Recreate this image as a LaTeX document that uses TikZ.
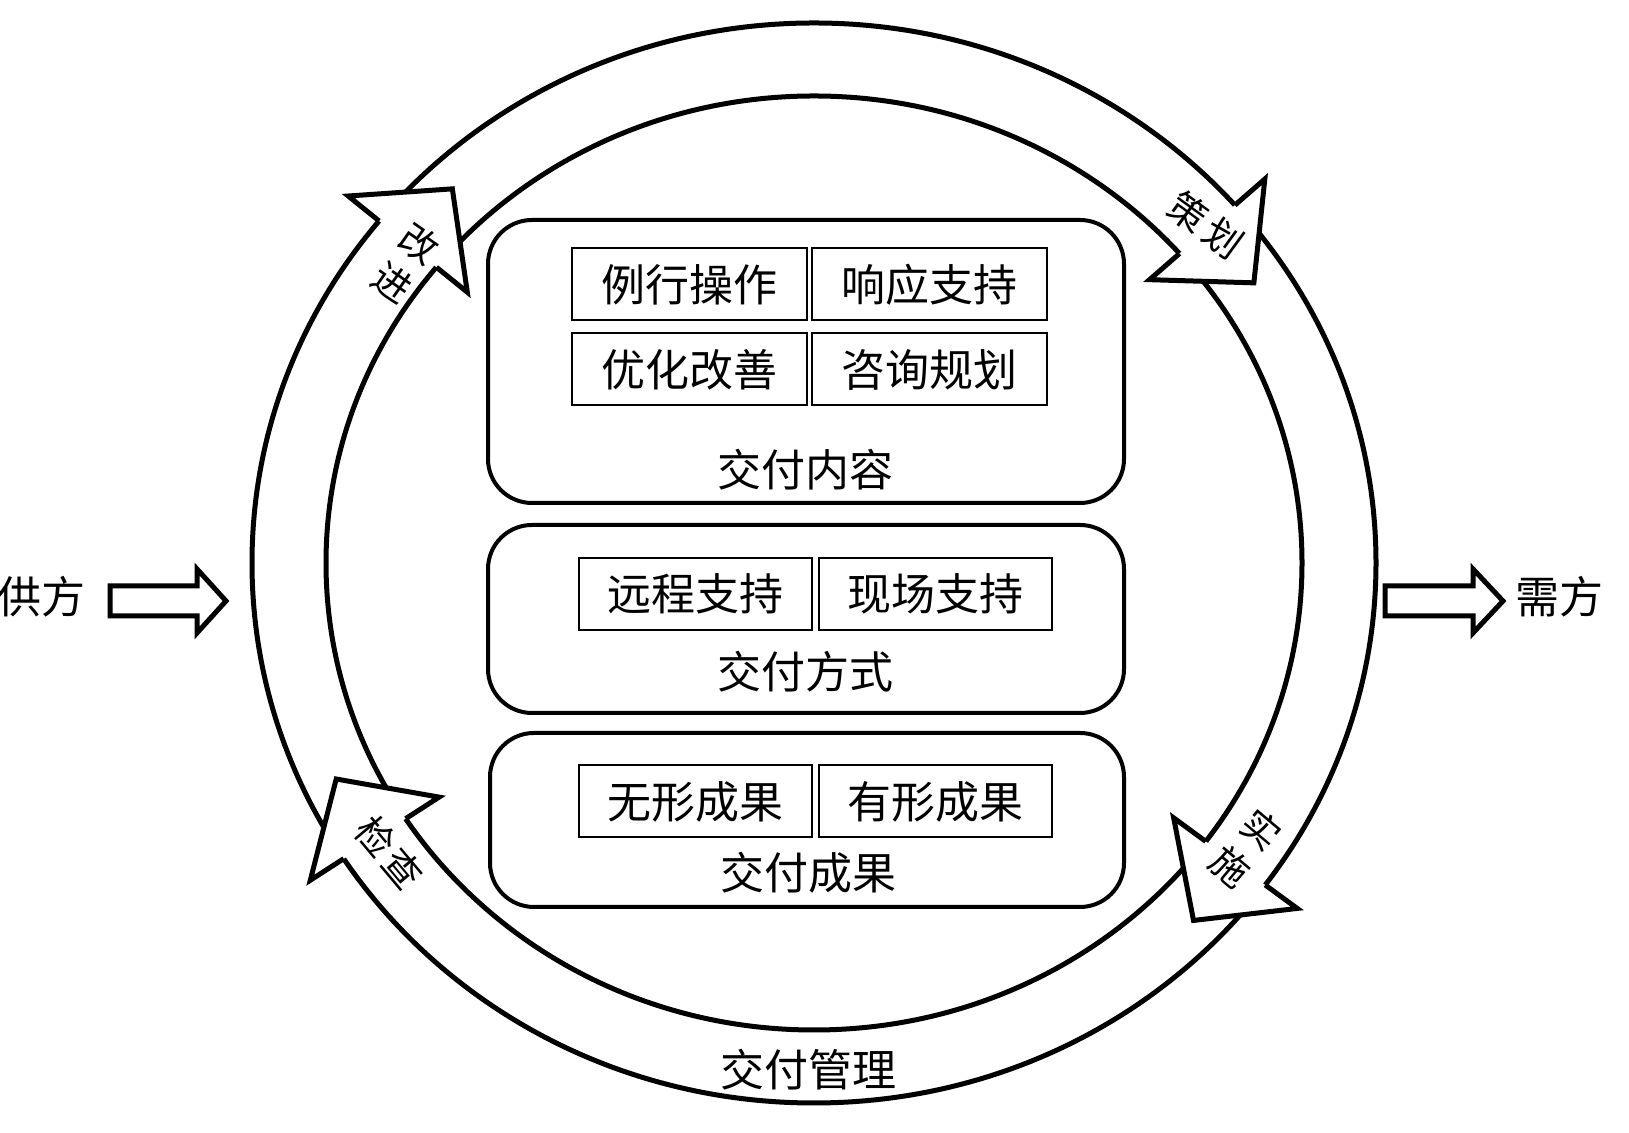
\documentclass[tikz,border=0pt]{standalone}
\usepackage{fontspec}
\setmainfont{Noto Sans CJK SC}
\usetikzlibrary{calc}
\newcommand{\ringhead}[2]{%
  \path ($(C)+(#1:281pt and 270pt)$) coordinate (#2o)
        ($(C)+(#1:244pt and 233.5pt)$) coordinate (#2i);
  \path ($(#2o)!0.5!(#2i)$) coordinate (#2m);
  \path ($(#2m)!2.08!(#2o)$) coordinate (#2wo)
        ($(#2m)!2.08!(#2i)$) coordinate (#2wi)
        ($(#2m)!35.5pt!-90:(#2o)$) coordinate (#2t);
  \fill[white] (#2o) -- (#2wo) -- (#2t) -- (#2wi) -- (#2i) -- cycle;
  \draw[ring] (#2o) -- (#2wo) -- (#2t) -- (#2wi) -- (#2i);
}
\begin{document}
\begin{tikzpicture}[x=0.5pt,y=0.5pt,
  ring/.style={line width=2.5pt, line join=miter},
  grp/.style={draw, line width=2pt, rounded corners=22pt, minimum width=318pt, inner sep=0pt},
  cell/.style={draw, line width=1pt, minimum width=117.5pt, minimum height=36pt, inner sep=0pt, font=\fontsize{22pt}{22pt}\selectfont},
  lbl/.style={font=\fontsize{22pt}{22pt}\selectfont, inner sep=0pt},
  albl/.style={font=\fontsize{19pt}{23.5pt}\selectfont, inner sep=0pt, align=center},
  sidearrow/.style={line width=2.5pt, line join=miter, fill=white}]
\useasboundingbox (0,0) rectangle (1629,1133);
\coordinate (C) at (814,570);
% ring
\draw[ring] (C) ellipse [x radius=281pt, y radius=270pt];
\draw[ring] (C) ellipse [x radius=244pt, y radius=233.5pt];
% arrow heads on the ring
\ringhead{140.7}{gj}
\ringhead{41.5}{ch}
\ringhead{-36.6}{ss}
\ringhead{213.2}{jc}
% arrow labels
\node[albl, rotate=-35] (gaijin) at (406,870) {改\\进};
\node[albl, rotate=-36] (cehua) at (1206,908) {策\hspace{3pt}划};
\node[albl, rotate=-40, font=\fontsize{19pt}{24.5pt}\selectfont] (shishi) at (1246,285) {实\\施};
\node[albl, rotate=-50] (jiancha) at (389,280) {检\hspace{2pt}查};
\node[lbl] (mgmt) at (808,63) {交付管理};
% group boxes
\node[grp, minimum height=141.5pt] (content) at (806,771.5) {};
\node[grp, minimum height=94pt] (mode) at (806,514) {};
\node[grp, minimum height=87pt, minimum width=317pt] (result) at (807,313) {};
% cells
\node[cell] (c11) at (689.5,848.5) {例行操作};
\node[cell] (c12) at (929.5,848.5) {响应支持};
\node[cell] (c21) at (689.5,763.5) {优化改善};
\node[cell] (c22) at (929.5,763.5) {咨询规划};
\node[lbl] (contentlbl) at (805,663) {交付内容};
\node[cell, minimum width=116.5pt] (m1) at (695.5,539) {远程支持};
\node[cell, minimum width=116.5pt] (m2) at (935.5,539) {现场支持};
\node[lbl] (modelbl) at (805,461) {交付方式};
\node[cell, minimum width=116.5pt] (r1) at (695.5,331.5) {无形成果};
\node[cell, minimum width=116.5pt] (r2) at (935.5,331.5) {有形成果};
\node[lbl] (resultlbl) at (808,260) {交付成果};
% side arrows
\node[lbl] (sup) at (41,536) {供方};
\node[lbl] (dem) at (1559,536) {需方};
\draw[sidearrow] (110,517) -- (197,517) -- (197,500) -- (226,532) -- (197,564) -- (197,547) -- (110,547) -- cycle;
\draw[sidearrow] (1385,517) -- (1473,517) -- (1473,500) -- (1503,532) -- (1473,564) -- (1473,547) -- (1385,547) -- cycle;
\end{tikzpicture}
\end{document}
